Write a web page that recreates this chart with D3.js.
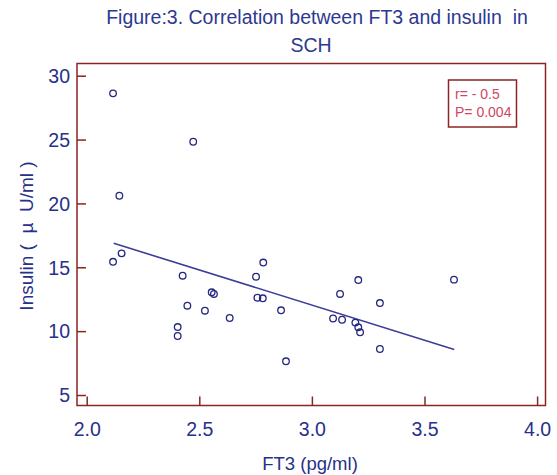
<!DOCTYPE html>
<html>
<head>
<meta charset="utf-8">
<script src="https://cdn.jsdelivr.net/npm/d3@7"></script>
<style>
	body { margin: 0; background: #fff; }
	text { font-family: "Liberation Sans", Arial, sans-serif; }
</style>
</head>
<body>
<div id="chart"></div>
<script>
//Data
let ft3 = [2.117, 2.473, 2.145, 2.155, 2.117, 2.784, 2.426, 2.752, 2.555, 2.565,
	2.447, 2.525, 2.635, 2.404, 2.404, 2.758, 2.782, 2.863, 2.885, 3.206,
	3.125, 3.302, 3.094, 3.134, 3.193, 3.206, 3.214, 3.302, 3.631];
let insulin = [28.62, 24.83, 20.60, 16.09, 15.43, 15.37, 14.34, 14.26, 13.04, 12.91,
	11.99, 11.60, 11.03, 10.32, 9.62, 12.62, 12.57, 11.63, 7.64, 14.00,
	12.91, 12.20, 10.99, 10.89, 10.67, 10.30, 9.91, 8.60, 14.03];

//Fitted regression line end points
let fitX = [2.12, 3.632];
let fitY = [16.88, 8.57];

let xTicks = [2.0, 2.5, 3.0, 3.5, 4.0];
let yTicks = [5, 10, 15, 20, 25, 30];
let statLines = ["r= - 0.5", "P= 0.004"];
let titleLines = ["Figure:3. Correlation between FT3 and insulin  in", "SCH"];

//Dimensions
let width = 557;
let height = 475;
let frame = {left: 77, right: 545.5, top: 63.5, bottom: 405.5};
let frameColor = "#8b2424";
let navy = "#27308a";

let svg = d3.select("#chart").append("svg")
	.attr("width", width)
	.attr("height", height);

//Scales
let x = d3.scaleLinear().domain([2.0, 4.0]).range([86.7, 537.1]);
let y = d3.scaleLinear().domain([5, 30]).range([395, 75.7]);

//Title
svg.append("g").selectAll("text")
		.data(titleLines)
	.enter()
		.append("text")
			.attr("x", function(d, i){ return i == 0 ? 317 : 311; })
			.attr("y", function(d, i){ return 24 + i * 28; })
			.attr("text-anchor", "middle")
			.attr("fill", "#2d3990")
			.style("font-size", "19.5px")
			.style("white-space", "pre")
			.text(function(d){ return d; });

//Plot frame
svg.append("rect")
	.attr("x", frame.left)
	.attr("y", frame.top)
	.attr("width", frame.right - frame.left)
	.attr("height", frame.bottom - frame.top)
	.attr("fill", "none")
	.attr("stroke", frameColor)
	.attr("stroke-width", 1.5);

//X axis, ticks inside the frame
let xAxis = svg.append("g")
	.attr("transform", "translate(0," + frame.bottom + ")")
	.call(d3.axisBottom(x).tickValues(xTicks).tickSizeInner(-9).tickSizeOuter(0)
		.tickPadding(17).tickFormat(d3.format(".1f")));

//Y axis, ticks inside the frame
let yAxis = svg.append("g")
	.attr("transform", "translate(" + frame.left + ",0)")
	.call(d3.axisLeft(y).tickValues(yTicks).tickSizeInner(-9).tickSizeOuter(0)
		.tickPadding(7));

[xAxis, yAxis].forEach(function(axis){
	axis.select(".domain").remove();
	axis.selectAll("line").attr("stroke", frameColor).attr("stroke-width", 1.5);
	axis.selectAll("text")
		.attr("fill", navy)
		.style("font-size", "19.5px")
		.style("font-family", "'Liberation Sans', Arial, sans-serif");
});
xAxis.selectAll("text").attr("dy", "0.71em");
yAxis.selectAll("text").attr("dy", "0.35em");

//Axis titles
svg.append("text")
	.attr("x", 310)
	.attr("y", 470)
	.attr("text-anchor", "middle")
	.attr("fill", navy)
	.style("font-size", "18.5px")
	.text("FT3 (pg/ml)");

svg.append("text")
	.attr("transform", "translate(33,236) rotate(-90)")
	.attr("text-anchor", "middle")
	.attr("fill", navy)
	.style("font-size", "19px")
	.style("white-space", "pre")
	.text("Insulin (  \u00b5  U/ml )");

//Regression line
svg.append("line")
	.attr("x1", x(fitX[0]))
	.attr("y1", y(fitY[0]))
	.attr("x2", x(fitX[1]))
	.attr("y2", y(fitY[1]))
	.attr("stroke", "#3a3d99")
	.attr("stroke-width", 1.6);

//Points
svg.append("g").selectAll("circle")
		.data(ft3)
	.enter()
		.append("circle")
			.attr("cx", function(d){ return x(d); })
			.attr("cy", function(d, i){ return y(insulin[i]); })
			.attr("r", 3.3)
			.attr("fill", "none")
			.attr("stroke", "#23277f")
			.attr("stroke-width", 1.3);

//Statistics box
svg.append("rect")
	.attr("x", 448.5)
	.attr("y", 80)
	.attr("width", 68)
	.attr("height", 47)
	.attr("fill", "#fff")
	.attr("stroke", frameColor)
	.attr("stroke-width", 1.5);

svg.append("g").selectAll("text")
		.data(statLines)
	.enter()
		.append("text")
			.attr("x", 455)
			.attr("y", function(d, i){ return 98.5 + i * 18.5; })
			.attr("fill", "#d0465e")
			.style("font-size", "14px")
			.text(function(d){ return d; });
</script>
</body>
</html>
